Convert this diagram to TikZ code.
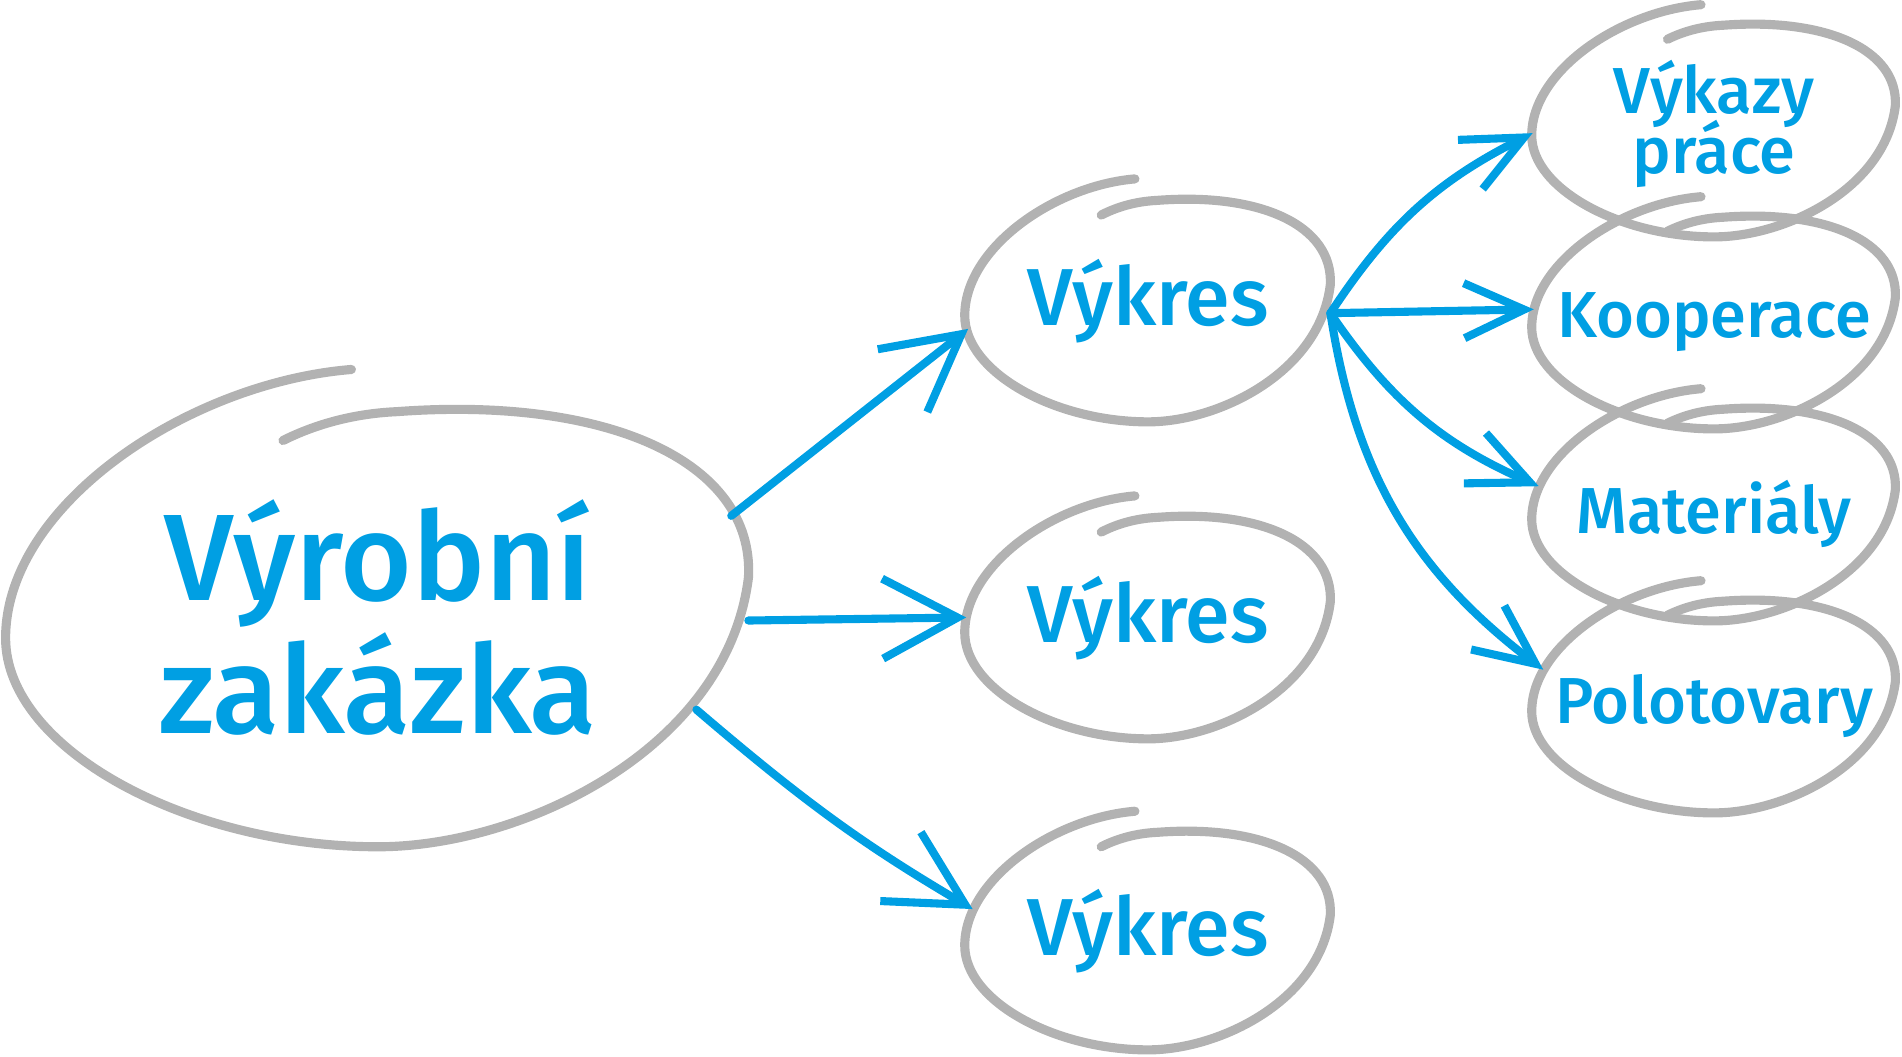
\documentclass[tikz,border=0pt]{standalone}
\usepackage{fontspec}
\setmainfont{Fira Sans}[UprightFont=* Medium]
\usetikzlibrary{arrows.meta, shapes.geometric}

\definecolor{inkblue}{RGB}{0,159,227}
\definecolor{pencil}{RGB}{178,178,178}

\tikzset{
	sketch/.style={pencil, line width=2.6pt, line cap=round, line join=round},
	bubble/.style={ellipse, inner sep=0pt, inner xsep=-5mm, outer sep=0pt, text=inkblue, align=center},
	link/.style={inkblue, line width=2.3pt, line cap=round, -{Straight Barb[length=7.5mm, width=8mm]}},
	twig/.style={inkblue, line width=2.3pt, line cap=round, -{Straight Barb[length=6mm, width=5.5mm]}},
	ring/.pic={
		\draw[sketch] (-0.07,1.16) .. controls (-0.5,1.1) and (-0.98,0.55) .. (-0.98,-0.05)
			.. controls (-0.98,-0.55) and (-0.5,-0.99) .. (0,-0.99)
			.. controls (0.38,-0.99) and (0.92,-0.55) .. (0.975,0.225)
			.. controls (0.99,0.75) and (0.6,1.04) .. (0.05,0.97)
			.. controls (-0.08,0.96) and (-0.18,0.9) .. (-0.25,0.84);
	}
}

\begin{document}
\begin{tikzpicture}
	\useasboundingbox (0,0) rectangle (19.02,10.57);
	
	% ==================== uzly ====================
	\node[bubble, minimum width=7.41cm, minimum height=4.40cm, text depth=6pt, font=\fontsize{35}{38}\selectfont] (zakazka) at (3.78,4.30) {Výrobní\\zakázka};
	
	\node[bubble, minimum width=3.65cm, minimum height=2.24cm, text depth=10pt, font=\fontsize{23}{27}\selectfont] (vykres1) at (11.48,7.47) {Výkres};
	\node[bubble, minimum width=3.65cm, minimum height=2.24cm, text depth=10pt, font=\fontsize{23}{27}\selectfont] (vykres2) at (11.48,4.30) {Výkres};
	\node[bubble, minimum width=3.65cm, minimum height=2.24cm, text depth=10pt, font=\fontsize{23}{27}\selectfont] (vykres3) at (11.48,1.17) {Výkres};
	
	\node[bubble, minimum width=3.63cm, minimum height=2.14cm, text depth=7.5pt, font={\fontsize{18.5}{17}\selectfont\lineskiplimit=-50pt\relax}] (vykazy) at (17.14,9.27) {Výkazy\\práce};
	\node[bubble, minimum width=3.63cm, minimum height=2.14cm, font=\fontsize{18.5}{16}\selectfont] (kooperace) at (17.14,7.35) {Kooperace};
	\node[bubble, minimum width=3.63cm, minimum height=2.14cm, font=\fontsize{18.5}{16}\selectfont] (materialy) at (17.14,5.43) {Materiály};
	\node[bubble, minimum width=3.63cm, minimum height=2.14cm, font=\fontsize{18.5}{16}\selectfont] (polotovary) at (17.14,3.51) {Polotovary};
	
	% ==================== kreslene elipsy ====================
	\pic[xscale=3.8, yscale=2.22] at (zakazka) {ring};
	\pic[xscale=1.87, yscale=1.13] at (vykres1) {ring};
	\pic[xscale=1.87, yscale=1.13] at (vykres2) {ring};
	\pic[xscale=1.87, yscale=1.11] at (vykres3) {ring};
	\pic[xscale=1.86, yscale=1.08] at (vykazy) {ring};
	\pic[xscale=1.86, yscale=1.08] at (kooperace) {ring};
	\pic[xscale=1.86, yscale=1.08] at (materialy) {ring};
	\pic[xscale=1.86, yscale=1.08] at (polotovary) {ring};
	
	% ==================== sipky ====================
	\draw[link, shorten <=2.5mm] (zakazka.16) -- (vykres1.186);
	\draw[link] (zakazka.1) -- (vykres2.177);
	\draw[link, shorten <=-2mm] (zakazka.-16) to[bend right=5] (vykres3.170);
	
	\draw[twig] (vykres1.-1) to[bend left=15] (vykazy.181);
	\draw[twig] (vykres1.-1) -- (kooperace.176);
	\draw[twig] (vykres1.-1) to[bend right=16] (materialy.171);
	\draw[twig] (vykres1.-1) to[bend right=22] (polotovary.168);
\end{tikzpicture}
\end{document}
